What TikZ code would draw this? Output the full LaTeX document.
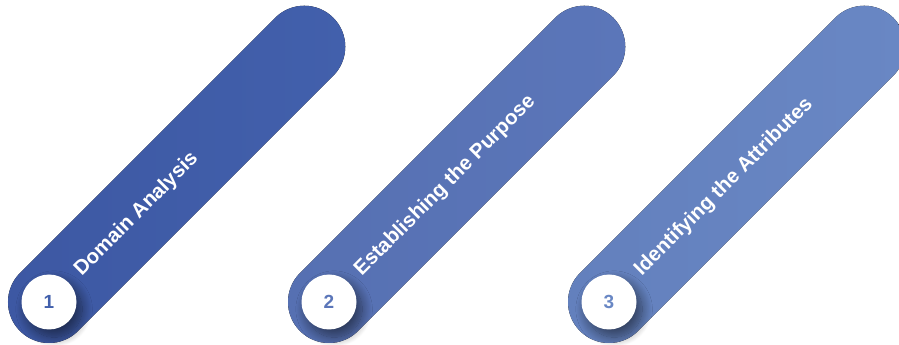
\documentclass[tikz,border=0pt]{standalone}
\usepackage{fontspec}
\setmainfont{Liberation Sans}
\usetikzlibrary{shadows.blur}
% pill colours: light end / darker end
\definecolor{pillA}{HTML}{4260AC}
\definecolor{pillAd}{HTML}{3D58A3}
\definecolor{pillB}{HTML}{5B76B9}
\definecolor{pillBd}{HTML}{5670B2}
\definecolor{pillC}{HTML}{6987C4}
\definecolor{pillCd}{HTML}{6380BD}
\begin{document}
\begin{tikzpicture}[x=1pt,y=1pt,
  numdisc/.style={circle, fill=white, minimum size=55pt, inner sep=0pt,
    font=\bfseries\fontsize{19}{19}\selectfont,
    blur shadow={shadow xshift=5pt, shadow yshift=-7pt, shadow scale=1.02,
      shadow blur radius=10pt, shadow blur steps=16, shadow opacity=50}},
  steplabel/.style={rotate=45, anchor=west, text=white, inner sep=0pt,
    font=\bfseries\fontsize{20.5}{20.5}\selectfont}]
\useasboundingbox (0,0) rectangle (899,345);
\clip (0,0) rectangle (899,345);
\foreach \i/\x/\c/\d/\t in {1/49/pillA/pillAd/Domain Analysis,
                            2/329/pillB/pillBd/Establishing the Purpose,
                            3/609/pillC/pillCd/Identifying the Attributes} {
  \begin{scope}[shift={(\x,43)}, rotate=45]
    % rounded bar running up to the right
    \fill[left color=\d, right color=\c]
      (0,-41) -- (361,-41) arc (-90:90:41) -- (0,41) arc (90:270:41) -- cycle;
    \node[numdisc, text=\c] (n\i) at (0,0) {\i};
    \node[steplabel] (l\i) at (41,0) {\t};
  \end{scope}
}
\end{tikzpicture}
\end{document}
